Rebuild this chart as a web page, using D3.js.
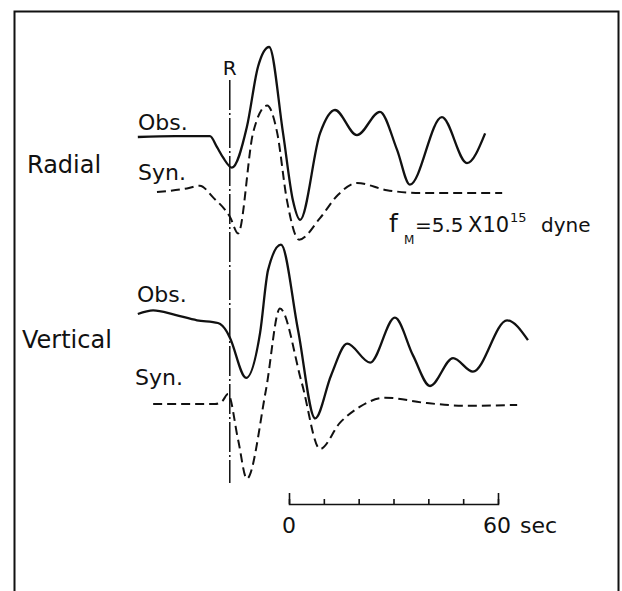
<!DOCTYPE html>
<html>
<head>
<meta charset="utf-8">
<script src="https://cdn.jsdelivr.net/npm/d3@7"></script>
<style>
  body { margin: 0; background: #fff; }
  text { font-family: "DejaVu Sans", sans-serif; fill: #111; }
</style>
</head>
<body>
<script>
// seismograms, time in sec relative to scale-bar zero, amplitude in relative units
var radObsT = [-43.4, -32.7, -22.7, -20.7, -18.9, -16.4, -12.1, -8.9, -5.7, -1.7, 1.1, 3.2, 8.9, 13.2, 19.5, 26.1, 31.0, 34.7, 43.9, 51.1, 56.3];
var radObsA = [0, 0.01, 0.01, -0.11, -0.23, -0.34, 0.11, 0.78, 1.0, 0.04, -0.70, -0.92, 0.04, 0.30, 0.02, 0.28, -0.14, -0.53, 0.22, -0.29, 0.04];

var radSynT = [-37.9, -29.3, -25.6, -21.8, -16.9, -14.6, -10.3, -6.3, -3.4, -0.6, 2.9, 8.9, 14.1, 19.5, 28.1, 37.6, 61.2];
var radSynA = [0, 0.04, 0.07, -0.06, -0.28, -0.46, 0.66, 0.96, 0.66, -0.09, -0.53, -0.29, -0.03, 0.10, 0.02, -0.01, -0.01];

var verObsT = [-43.4, -39.0, -32.7, -26.4, -20.4, -17.8, -16.9, -12.3, -8.3, -6.0, -2.3, 2.6, 7.5, 12.1, 16.7, 23.3, 30.4, 35.6, 40.5, 47.1, 52.8, 62.6, 68.6];
var verObsA = [0, 0.04, -0.01, -0.07, -0.10, -0.20, -0.27, -0.71, -0.21, 0.49, 0.77, -0.18, -1.16, -0.68, -0.33, -0.54, -0.04, -0.46, -0.80, -0.49, -0.64, -0.07, -0.29];

var verSynT = [-39.0, -21.2, -19.2, -17.5, -14.6, -12.1, -6.6, -2.6, 3.7, 8.9, 14.6, 20.4, 27.6, 39.6, 51.1, 65.5];
var verSynA = [0, 0, 0.03, 0.11, -0.40, -0.83, 0.16, 1.06, 0.23, -0.50, -0.21, -0.03, 0.07, 0.01, -0.02, -0.01];

var rArrival = -17;
var scaleTicks = [0, 10, 20, 30, 40, 50, 60];

var width = 622, height = 591;
var svg = d3.select('body').append('svg').attr('width', width).attr('height', height);

// frame (bottom edge is off the page)
svg.append('rect')
  .attr('x', 14.5).attr('y', 11.5)
  .attr('width', 604).attr('height', 600)
  .attr('fill', 'none').attr('stroke', '#111').attr('stroke-width', 2);

var x = d3.scaleLinear().domain([0, 60]).range([289, 498]);

function trace(ts, as, base, dashed) {
  var y = d3.scaleLinear().domain([-1, 1]).range([base + 90, base - 90]);
  var pts = ts.map(function(t, i) { return [t, as[i]]; });
  var line = d3.line()
    .x(function(d) { return x(d[0]); })
    .y(function(d) { return y(d[1]); })
    .curve(d3.curveMonotoneX);
  svg.append('path')
    .attr('d', line(pts))
    .attr('fill', 'none')
    .attr('stroke', '#111')
    .attr('stroke-width', dashed ? 2 : 2.3)
    .attr('stroke-linejoin', 'round')
    .attr('stroke-dasharray', dashed ? '9,5' : null);
}

trace(radObsT, radObsA, 137, false);
trace(radSynT, radSynA, 192, true);
trace(verObsT, verObsA, 314, false);
trace(verSynT, verSynA, 404, true);

// R arrival line
svg.append('line')
  .attr('x1', x(rArrival)).attr('x2', x(rArrival))
  .attr('y1', 80).attr('y2', 483)
  .attr('stroke', '#111').attr('stroke-width', 1.5)
  .attr('stroke-dasharray', '30,3,2,3');
svg.append('text')
  .attr('x', x(rArrival)).attr('y', 75)
  .attr('text-anchor', 'middle')
  .style('font-size', '20px')
  .text('R');

// labels
function label(s, lx, ly, size) {
  svg.append('text').attr('x', lx).attr('y', ly).style('font-size', size + 'px').text(s);
}
label('Radial', 27, 173, 24);
label('Vertical', 22, 348, 24);
label('Obs.', 138, 130, 22);
label('Syn.', 138, 180, 22);
label('Obs.', 137, 302, 22);
label('Syn.', 135, 385, 22);

// f_M annotation
var fm = svg.append('text').attr('y', 232);
fm.append('tspan').attr('x', 389).style('font-size', '25px').text('f');
fm.append('tspan').attr('x', 404).attr('y', 244).style('font-size', '12px').text('M');
fm.append('tspan').attr('x', 415).attr('y', 232).style('font-size', '20px').text('=5.5');
fm.append('tspan').attr('x', 468).style('font-size', '21px').text('X10');
fm.append('tspan').attr('x', 510).attr('y', 222).style('font-size', '13px').text('15');
fm.append('tspan').attr('x', 541).attr('y', 232).style('font-size', '20px').text('dyne');

// time scale bar
var bar = d3.axisTop(x)
  .tickValues(scaleTicks)
  .tickFormat('')
  .tickSizeInner(5)
  .tickSizeOuter(11);
var g = svg.append('g').attr('transform', 'translate(0,504)').call(bar);
g.selectAll('path, line').attr('stroke', '#111').attr('stroke-width', 1.6);

svg.append('text')
  .attr('x', x(0)).attr('y', 533)
  .attr('text-anchor', 'middle')
  .style('font-size', '22px')
  .text('0');
svg.append('text')
  .attr('x', x(60) - 15).attr('y', 533)
  .style('font-size', '22px')
  .text('60');
svg.append('text')
  .attr('x', x(60) + 22).attr('y', 533)
  .style('font-size', '22px')
  .text('sec');
</script>
</body>
</html>
